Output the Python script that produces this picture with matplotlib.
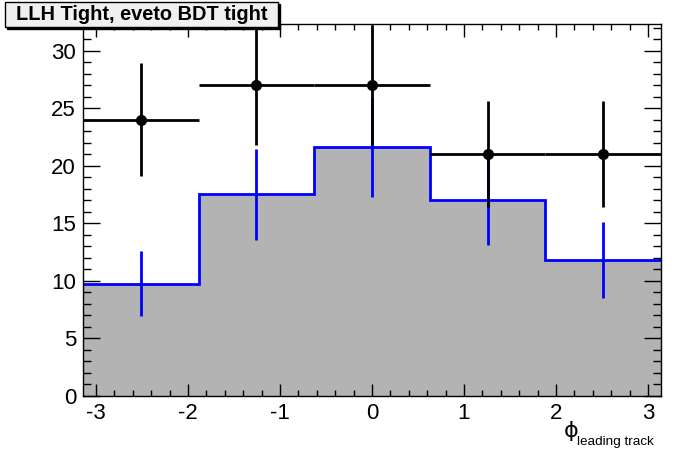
import numpy as np
import matplotlib
matplotlib.use("Agg")
from matplotlib import pyplot as plt
from matplotlib.patches import Rectangle
from matplotlib.ticker import MultipleLocator

plt.rcParams['font.family'] = ['Liberation Sans', 'DejaVu Sans']

# binning in phi (5 bins over -pi..pi)
bin_edges = [-3.1416, -1.8850, -0.6283, 0.6283, 1.8850, 3.1416]
bin_centers = [-2.513, -1.257, 0.0, 1.257, 2.513]
half_width = [0.628, 0.628, 0.628, 0.628, 0.628]

# data points
data_vals = [24, 27, 27, 21, 21]
data_err = [4.9, 5.2, 5.2, 4.6, 4.6]

# background histogram
mc_vals = [9.75, 17.5, 21.6, 17.0, 11.85]
mc_err = [2.8, 3.95, 4.3, 3.9, 3.3]

fig = plt.figure(figsize=(6.96, 4.72), dpi=100)
ax = fig.add_axes([0.1193, 0.161, 0.8304, 0.788])

ax.stairs(mc_vals, bin_edges, fill=True, color="#b3b3b3", zorder=1)
ax.stairs(mc_vals, bin_edges, baseline=None, color="blue", lw=2, zorder=2)
ax.errorbar(bin_centers, mc_vals, yerr=mc_err, fmt="none", ecolor="blue",
            elinewidth=2, capsize=0, zorder=3)
ax.errorbar(bin_centers, data_vals, xerr=half_width, yerr=data_err, fmt="o",
            color="black", ms=7, elinewidth=2, capsize=0, zorder=4)

ax.set_xlim(-3.1416, 3.1416)
ax.set_ylim(0, 32.3)

ax.xaxis.set_major_locator(MultipleLocator(1))
ax.xaxis.set_minor_locator(MultipleLocator(0.2))
ax.yaxis.set_major_locator(MultipleLocator(5))
ax.yaxis.set_minor_locator(MultipleLocator(1))
ax.tick_params(which="both", direction="in", top=True, right=True, width=1)
ax.tick_params(axis="y", which="major", length=12, labelsize=16, pad=5)
ax.tick_params(axis="y", which="minor", length=6)
ax.tick_params(axis="x", which="major", length=9, labelsize=16, pad=5)
ax.tick_params(axis="x", which="minor", length=4.5)
ax.set_xticks([-3, -2, -1, 0, 1, 2, 3])
ax.set_xticklabels(["-3", "-2", "-1", "0", "1", "2", "3"])
for s in ax.spines.values():
    s.set_linewidth(1)

# axis title
fig.text(564 / 696, 1 - 437 / 472, "\u03d5", fontsize=16, ha="left", va="baseline",
         family=['DejaVu Sans'])
fig.text(577 / 696, 1 - 445 / 472, "leading track", fontsize=9.7, ha="left", va="baseline")

# title box with shadow
fig.patches.append(Rectangle((7 / 696, 1 - 29 / 472), 273 / 696, 25 / 472,
                             transform=fig.transFigure, facecolor="black",
                             edgecolor="black", zorder=5))
fig.patches.append(Rectangle((5 / 696, 1 - 27 / 472), 273 / 696, 25 / 472,
                             transform=fig.transFigure, facecolor="#f0f0f0",
                             edgecolor="black", lw=1, zorder=6))
fig.text(142 / 696, 1 - 15 / 472, "LLH Tight, eveto BDT tight", fontsize=14.4,
         fontweight="bold", ha="center", va="center", zorder=7)

fig.savefig("out.png", dpi=100)
